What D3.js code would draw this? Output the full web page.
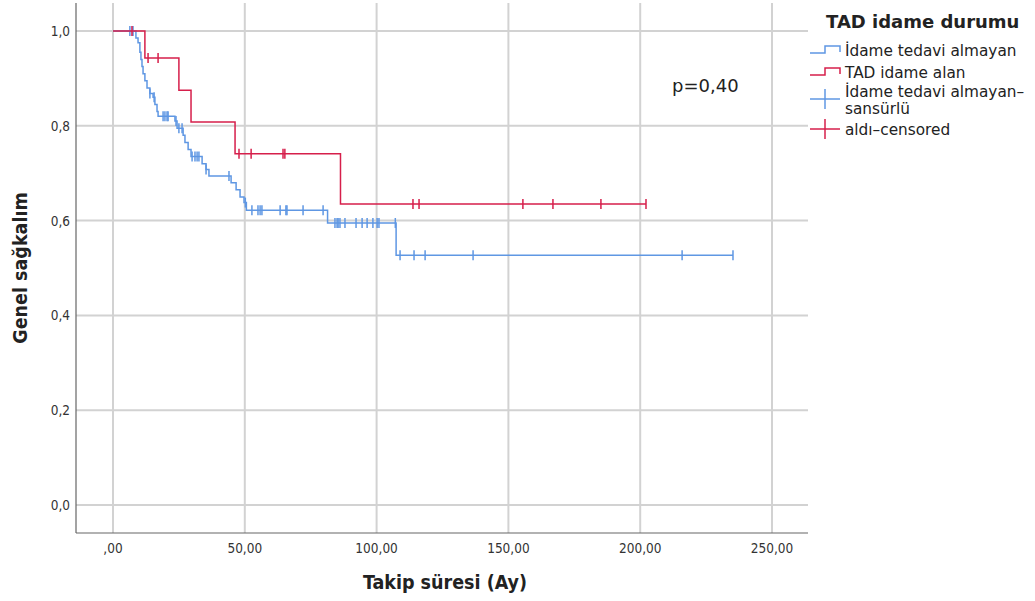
<!DOCTYPE html>
<html>
<head>
<meta charset="utf-8">
<script src="https://cdn.jsdelivr.net/npm/d3@7"></script>
<style>
  body { margin: 0; background: #fff; }
  text { font-family: "DejaVu Sans", sans-serif; }
</style>
</head>
<body>
<div id="chart"></div>
<script>
// Kaplan-Meier steps: time of each drop and survival after it
const blueTimes = [8.7, 9.5, 10.2, 10.6, 11.0, 11.4, 12.1, 12.9, 14.0, 15.2, 15.9, 16.7, 17.1,
  23.5, 24.3, 26.6, 27.3, 28.5, 29.6, 33.8, 35.3, 36.4, 44.8, 46.7, 48.2, 49.7, 50.6, 81.4, 107.4];
const blueSurv = [0.985, 0.975, 0.955, 0.94, 0.925, 0.91, 0.895, 0.88, 0.868, 0.86, 0.845, 0.83, 0.82,
  0.81, 0.795, 0.78, 0.765, 0.75, 0.735, 0.72, 0.708, 0.694, 0.68, 0.665, 0.65, 0.638, 0.622, 0.595, 0.527];
const blueCensored = [6.4, 7.6, 14.0, 15.6, 19.0, 19.7, 20.5, 20.9, 23.9, 25.0, 26.2, 30.0, 31.1, 31.9,
  32.6, 35.3, 44.0, 50.2, 52.7, 55.0, 55.8, 56.5, 63.4, 65.6, 66.0, 72.1, 79.7, 84.2, 85.0, 85.4, 86.1,
  88.0, 92.2, 94.5, 96.4, 98.6, 100.2, 100.9, 107.1, 108.9, 114.2, 118.4, 136.6, 215.9, 235.2];

const redTimes = [12.1, 25.0, 29.6, 46.3, 86.3];
const redSurv = [0.943, 0.875, 0.808, 0.741, 0.635];
const redCensored = [7.2, 13.3, 17.1, 47.8, 52.4, 64.5, 65.2, 113.8, 116.1, 155.5, 166.9, 185.1, 202.2];

const xTicks = [0, 50, 100, 150, 200, 250];
const xTickLabels = [",00", "50,00", "100,00", "150,00", "200,00", "250,00"];
const yTicks = [0, 0.2, 0.4, 0.6, 0.8, 1.0];
const yTickLabels = ["0,0", "0,2", "0,4", "0,6", "0,8", "1,0"];

const legendLabels = ["İdame tedavi almayan", "TAD idame alan", ["İdame tedavi almayan–", "sansürlü"], "aldı–censored"];

const blue = "#5f97e3";
const red = "#d61f4b";

const width = 1035;
const height = 601;
const plot = { left: 76, right: 808, top: 3, bottom: 533 };

const svg = d3.select("#chart").append("svg")
  .attr("width", width)
  .attr("height", height);

const x = d3.scaleLinear().domain([0, 250]).range([113, 772]);
const y = d3.scaleLinear().domain([0, 1]).range([505, 31]);

// grid
svg.append("g").selectAll("line").data(yTicks).enter().append("line")
  .attr("x1", plot.left).attr("x2", plot.right)
  .attr("y1", d => y(d)).attr("y2", d => y(d))
  .attr("stroke", "#d2d2d2").attr("stroke-width", 2);
svg.append("g").selectAll("line").data(xTicks).enter().append("line")
  .attr("y1", plot.top).attr("y2", plot.bottom)
  .attr("x1", d => x(d)).attr("x2", d => x(d))
  .attr("stroke", "#d2d2d2").attr("stroke-width", 2);

// axes lines
svg.append("line").attr("x1", plot.left).attr("x2", plot.left)
  .attr("y1", plot.top).attr("y2", plot.bottom)
  .attr("stroke", "#666").attr("stroke-width", 1.2);
svg.append("line").attr("x1", plot.left).attr("x2", plot.right)
  .attr("y1", plot.bottom).attr("y2", plot.bottom)
  .attr("stroke", "#666").attr("stroke-width", 1.2);

// tick labels
svg.append("g").selectAll("text").data(yTicks).enter().append("text")
  .attr("x", 70).attr("y", d => y(d) + 5)
  .attr("text-anchor", "end")
  .attr("font-size", "13.5px")
  .attr("fill", "#333")
  .style("font-family", "'DejaVu Sans Condensed', sans-serif")
  .text((d, i) => yTickLabels[i]);
svg.append("g").selectAll("text").data(xTicks).enter().append("text")
  .attr("x", d => x(d)).attr("y", 553)
  .attr("text-anchor", "middle")
  .attr("font-size", "13.5px")
  .attr("fill", "#333")
  .style("font-family", "'DejaVu Sans Condensed', sans-serif")
  .text((d, i) => xTickLabels[i]);

// axis titles
svg.append("text")
  .attr("x", 445).attr("y", 589)
  .attr("text-anchor", "middle")
  .attr("font-size", "19.5px").attr("font-weight", "bold")
  .attr("fill", "#222")
  .style("font-family", "'DejaVu Sans Condensed', sans-serif")
  .text("Takip süresi (Ay)");
svg.append("text")
  .attr("transform", "translate(27,268) rotate(-90)")
  .attr("text-anchor", "middle")
  .attr("font-size", "19.5px").attr("font-weight", "bold")
  .attr("fill", "#222")
  .style("font-family", "'DejaVu Sans Condensed', sans-serif")
  .text("Genel sağkalım");

// survival curves
function stepPoints(times, surv, censored) {
  const pts = [[0, 1]];
  times.forEach((t, i) => pts.push([t, surv[i]]));
  const end = d3.max(censored.concat(times));
  pts.push([end, surv[surv.length - 1]]);
  return pts;
}
function survAt(times, surv, t) {
  let s = 1;
  times.forEach((tt, i) => { if (tt <= t) s = surv[i]; });
  return s;
}

const line = d3.line()
  .x(d => x(d[0]))
  .y(d => y(d[1]))
  .curve(d3.curveStepAfter);

const groups = [
  { times: blueTimes, surv: blueSurv, cens: blueCensored, color: blue },
  { times: redTimes, surv: redSurv, cens: redCensored, color: red }
];

groups.forEach(g => {
  svg.append("path")
    .datum(stepPoints(g.times, g.surv, g.cens))
    .attr("fill", "none")
    .attr("stroke", g.color)
    .attr("stroke-width", 1.5)
    .attr("d", line);

  svg.append("g").selectAll("line").data(g.cens).enter().append("line")
    .attr("x1", d => x(d)).attr("x2", d => x(d))
    .attr("y1", d => y(survAt(g.times, g.surv, d)) - 5)
    .attr("y2", d => y(survAt(g.times, g.surv, d)) + 5)
    .attr("stroke", g.color)
    .attr("stroke-width", 1.5);
});

// p value
svg.append("text")
  .attr("x", 672).attr("y", 92)
  .attr("font-size", "18px")
  .attr("fill", "#222")
  .text("p=0,40");

// legend
const lg = svg.append("g");
lg.append("text")
  .attr("x", 826).attr("y", 28)
  .attr("font-size", "18px").attr("font-weight", "bold")
  .attr("fill", "#222")
  .text("TAD idame durumu");

const stepIcon = (cy, color) => {
  lg.append("path")
    .attr("d", `M810,${cy + 3}H825V${cy - 4}H840V${cy + 2}`)
    .attr("fill", "none").attr("stroke", color).attr("stroke-width", 1.5);
};
const crossIcon = (cy, color) => {
  lg.append("line").attr("x1", 810).attr("x2", 840).attr("y1", cy).attr("y2", cy)
    .attr("stroke", color).attr("stroke-width", 1.5);
  lg.append("line").attr("x1", 825).attr("x2", 825).attr("y1", cy - 10).attr("y2", cy + 10)
    .attr("stroke", color).attr("stroke-width", 1.5);
};

stepIcon(50, blue);
stepIcon(72, red);
crossIcon(99, blue);
crossIcon(129, red);

const labelY = [56, 78, 97, 135];
legendLabels.forEach((lab, i) => {
  const t = lg.append("text")
    .attr("x", 845).attr("y", labelY[i])
    .attr("font-size", "15.3px")
    .attr("fill", "#222");
  if (Array.isArray(lab)) {
    lab.forEach((s, j) => t.append("tspan").attr("x", 845).attr("dy", j ? 17 : 0).text(s));
  } else {
    t.text(lab);
  }
});
</script>
</body>
</html>
